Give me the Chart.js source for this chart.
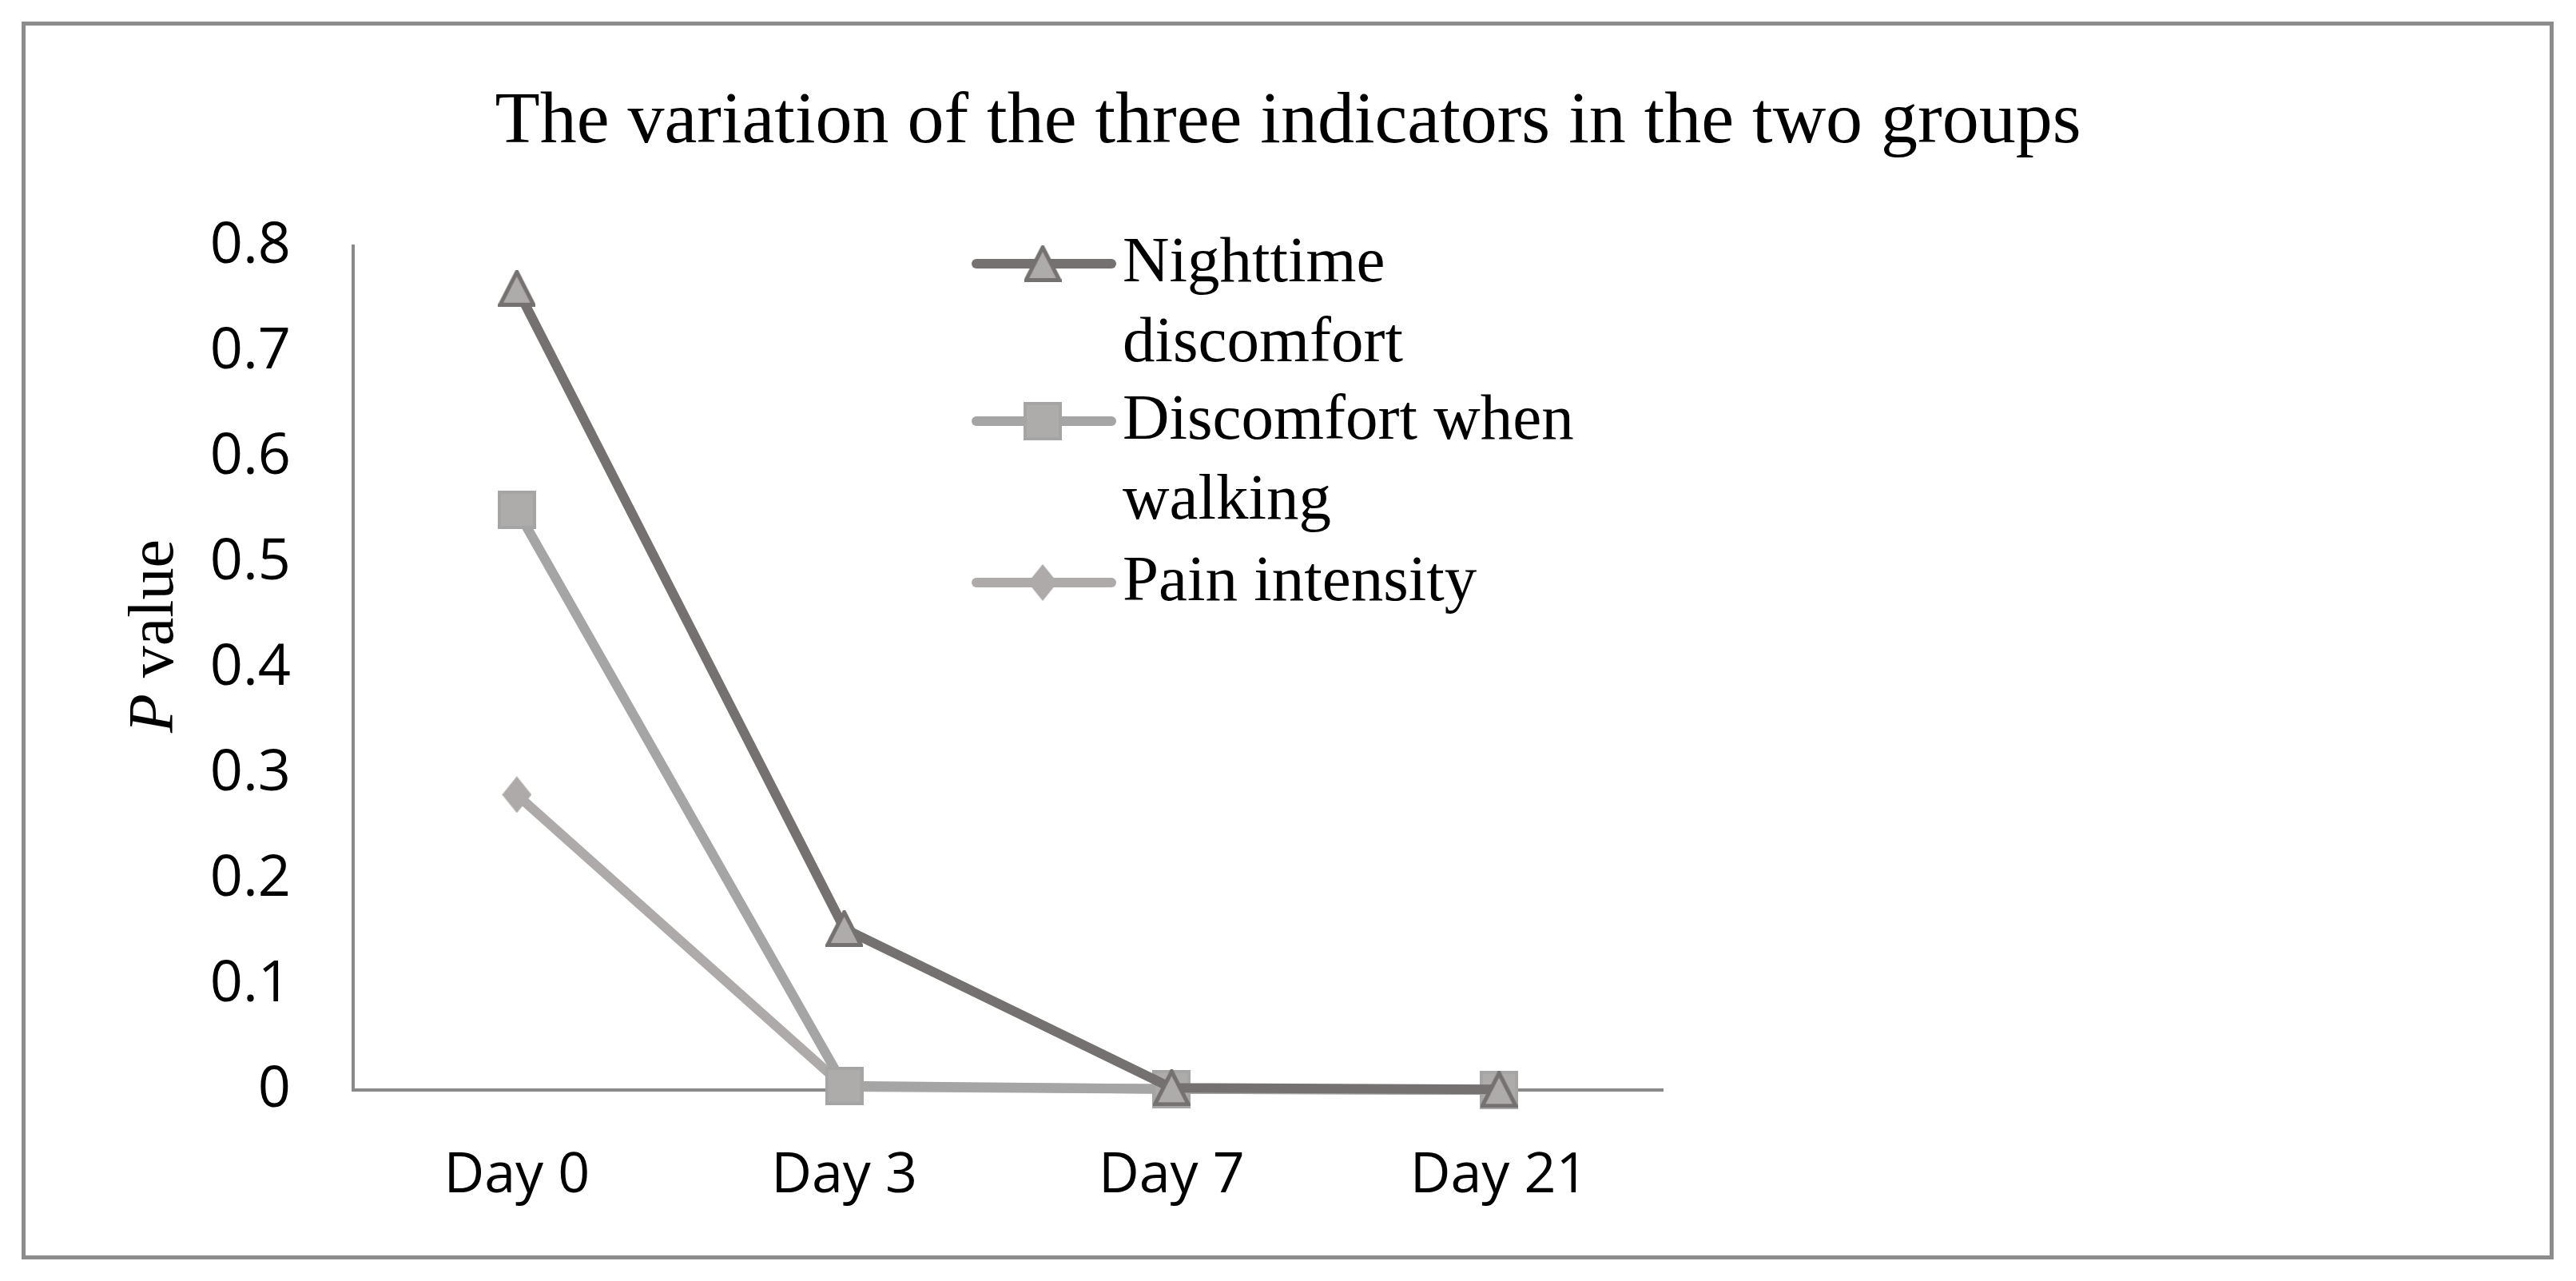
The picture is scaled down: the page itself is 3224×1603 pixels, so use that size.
<!DOCTYPE html>
<html>
<head>
<meta charset="utf-8">
<title>The variation of the three indicators in the two groups</title>
<script src="https://cdn.jsdelivr.net/npm/chart.js@4.4.1/dist/chart.umd.min.js"></script>
<style>
  html, body { margin: 0; padding: 0; background: #fff; }
  canvas { display: block; }
</style>
</head>
<body>
<canvas id="chart" width="3224" height="1603"></canvas>
<script>
// chart data
const days = ["Day 0", "Day 3", "Day 7", "Day 21"];
const nighttimeDiscomfort = [0.76, 0.153, 0.002, 0.0005];
const walkingDiscomfort = [0.55, 0.004, 0.001, 0];
const painIntensity = [0.28, 0.003, 0.001, 0];
const seriesNames = ["Nighttime discomfort", "Discomfort when walking", "Pain intensity"];
const yTickLabels = ["0", "0.1", "0.2", "0.3", "0.4", "0.5", "0.6", "0.7", "0.8"];
const chartTitle = "The variation of the three indicators in the two groups";

const SERIF = "'Liberation Serif', 'DejaVu Serif', serif";
const SANS = "'Open Sans', 'Noto Sans', sans-serif";
const AXIS_GRAY = "#898989";

// excel-like markers drawn once on small canvases
function makeMarker(kind, w, h, fill, stroke, lw) {
  const c = document.createElement("canvas");
  c.width = w;
  c.height = h;
  const g = c.getContext("2d");
  const p = lw / 2;
  g.beginPath();
  if (kind === "triangle") {
    g.moveTo(w / 2, p);
    g.lineTo(w - p, h - p);
    g.lineTo(p, h - p);
  } else if (kind === "square") {
    g.rect(p, p, w - lw, h - lw);
  } else {
    g.moveTo(w / 2, p);
    g.lineTo(w - p, h / 2);
    g.lineTo(w / 2, h - p);
    g.lineTo(p, h / 2);
  }
  g.closePath();
  g.fillStyle = fill;
  g.fill();
  if (lw > 0) {
    g.lineJoin = "miter";
    g.lineWidth = lw;
    g.strokeStyle = stroke;
    g.stroke();
  }
  return c;
}

const triangleMark = makeMarker("triangle", 47, 46, "#AEABAB", "#767171", 5);
const squareMark = makeMarker("square", 48, 48, "#AEABAB", "#A5A5A5", 4);
const diamondMark = makeMarker("diamond", 37, 46, "#AEAAAA", "#AEAAAA", 0);

// white page + grey frame round the whole chart
const framePlugin = {
  id: "frame",
  beforeDraw(chart) {
    const ctx = chart.ctx;
    ctx.save();
    ctx.fillStyle = "#ffffff";
    ctx.fillRect(0, 0, chart.width, chart.height);
    ctx.strokeStyle = "#8c8c8c";
    ctx.lineWidth = 5;
    ctx.strokeRect(29.5, 29.5, 3164, 1544);
    ctx.restore();
  }
};

// title centred on the page, y axis title with an italic P
const textPlugin = {
  id: "texts",
  afterDraw(chart) {
    const ctx = chart.ctx;
    ctx.save();
    ctx.fillStyle = "#000";
    ctx.textBaseline = "alphabetic";
    ctx.textAlign = "center";
    ctx.font = "92px " + SERIF;
    ctx.fillText(chartTitle, 1612, 178);

    ctx.textAlign = "left";
    ctx.translate(216, 796);
    ctx.rotate(-Math.PI / 2);
    const italic = "italic 80px " + SERIF;
    const plain = "80px " + SERIF;
    ctx.font = italic;
    const wP = ctx.measureText("P").width;
    ctx.font = plain;
    const wRest = ctx.measureText(" value").width;
    const x = -(wP + wRest) / 2;
    ctx.font = italic;
    ctx.fillText("P", x, 0);
    ctx.font = plain;
    ctx.fillText(" value", x + wP, 0);
    ctx.restore();
  }
};

// legend sitting inside the plot, labels wrapped over two lines
const legendPlugin = {
  id: "wrapLegend",
  afterDraw(chart) {
    const ctx = chart.ctx;
    const lineX0 = 1222, lineX1 = 1391, markX = 1305, textX = 1405;
    const rowY = [330, 527, 729];
    const lineGap = 100;
    ctx.save();
    ctx.font = "81px " + SERIF;
    chart.data.datasets.forEach((ds, i) => {
      const y = rowY[i];
      ctx.strokeStyle = ds.borderColor;
      ctx.lineWidth = ds.borderWidth;
      ctx.lineCap = "round";
      ctx.beginPath();
      ctx.moveTo(lineX0, y);
      ctx.lineTo(lineX1, y);
      ctx.stroke();

      const m = ds.pointStyle;
      ctx.drawImage(m, markX - m.width / 2, y - m.height / 2);

      // wrap label words to fit 600px
      const words = ds.label.split(" ");
      const lines = [];
      let cur = "";
      words.forEach(w => {
        const test = cur ? cur + " " + w : w;
        if (ctx.measureText(test).width > 600 && cur) {
          lines.push(cur);
          cur = w;
        } else {
          cur = test;
        }
      });
      lines.push(cur);
      ctx.fillStyle = "#000";
      ctx.textBaseline = "alphabetic";
      lines.forEach((t, k) => ctx.fillText(t, textX, y + 22 + k * lineGap));
    });
    ctx.restore();
  }
};

const lineStyle = {
  borderWidth: 12,
  borderJoinStyle: "round",
  borderCapStyle: "round",
  tension: 0,
  clip: false,
  pointRadius: 24
};

new Chart(document.getElementById("chart"), {
  type: "line",
  data: {
    labels: days,
    datasets: [
      {
        ...lineStyle,
        label: seriesNames[0],
        data: nighttimeDiscomfort,
        borderColor: "#767171",
        pointStyle: triangleMark
      },
      {
        ...lineStyle,
        label: seriesNames[1],
        data: walkingDiscomfort,
        borderColor: "#A5A5A5",
        pointStyle: squareMark
      },
      {
        ...lineStyle,
        label: seriesNames[2],
        data: painIntensity,
        borderColor: "#AEAAAA",
        pointStyle: diamondMark
      }
    ]
  },
  options: {
    responsive: false,
    animation: false,
    devicePixelRatio: 1,
    layout: {
      padding: { top: 308, right: 1143, bottom: 0, left: 0 }
    },
    scales: {
      x: {
        type: "category",
        offset: true,
        grid: { display: false, drawTicks: false },
        border: { display: true, color: AXIS_GRAY, width: 4 },
        ticks: {
          color: "#000",
          font: { family: SANS, size: 70 },
          padding: 66,
          maxRotation: 0
        },
        afterFit(scale) { scale.height = 1603 - 1364; }
      },
      y: {
        min: 0,
        max: 0.8,
        grid: { display: false, drawTicks: false },
        border: { display: true, color: AXIS_GRAY, width: 4 },
        ticks: {
          stepSize: 0.1,
          color: "#000",
          font: { family: SANS, size: 72 },
          padding: 78,
          callback: (v, i) => yTickLabels[i]
        },
        afterFit(scale) { scale.width = 442; }
      }
    },
    plugins: {
      legend: { display: false },
      tooltip: { enabled: false },
      title: { display: false }
    }
  },
  plugins: [framePlugin, textPlugin, legendPlugin]
});
</script>
</body>
</html>
